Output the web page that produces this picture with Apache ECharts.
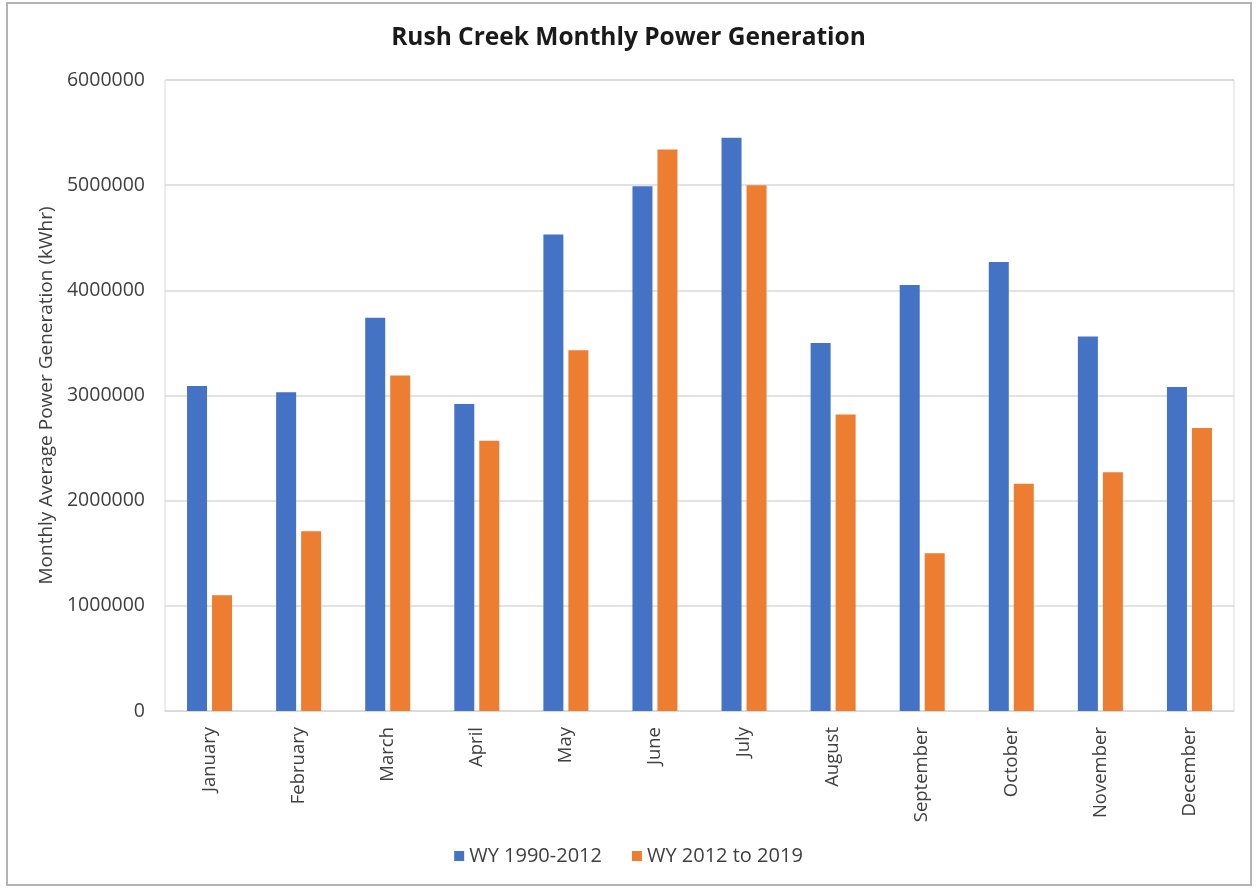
<!DOCTYPE html>
<html>
<head>
<meta charset="utf-8">
<script src="https://cdn.jsdelivr.net/npm/echarts@6/dist/echarts.min.js"></script>
<style>
html,body{margin:0;padding:0;background:#fff;}
#chart{width:1257px;height:888px;}
</style>
</head>
<body>
<div id="chart"></div>
<script>
const months = ["January","February","March","April","May","June","July","August","September","October","November","December"];
const wy1990_2012 = [3090000, 3030000, 3740000, 2920000, 4530000, 4990000, 5450000, 3500000, 4050000, 4270000, 3560000, 3080000];
const wy2012_2019 = [1100000, 1710000, 3190000, 2570000, 3430000, 5340000, 5000000, 2820000, 1500000, 2160000, 2270000, 2690000];
const seriesNames = ["WY 1990-2012", "WY 2012 to 2019"];
const yTicks = { min: 0, max: 6000000, interval: 1000000 };

const font = "'Open Sans', sans-serif";
const chart = echarts.init(document.getElementById('chart'), null, {renderer: 'canvas'});
chart.setOption({
  animation: false,
  backgroundColor: '#ffffff',
  title: {
    text: 'Rush Creek Monthly Power Generation',
    left: 'center',
    top: 21,
    textStyle: { fontFamily: font, fontWeight: 'bold', fontSize: 24.5, color: '#1a1a1a' }
  },
  graphic: [{
    type: 'rect',
    shape: { x: 7, y: 3, width: 1244, height: 882 },
    style: { fill: 'none', stroke: '#b3b3b3', lineWidth: 2 },
    silent: true
  }],
  legend: {
    data: seriesNames,
    bottom: 17,
    left: 'center',
    itemWidth: 10,
    itemHeight: 10,
    itemGap: 30,
    icon: 'rect',
    textStyle: { fontFamily: font, fontSize: 20, color: '#404040' }
  },
  grid: { left: 165, right: 23, top: 80, bottom: 177, show: true, borderColor: '#d9d9d9', borderWidth: 1 },
  xAxis: {
    type: 'category',
    data: months,
    axisLine: { lineStyle: { color: '#d9d9d9', width: 1 } },
    axisTick: { show: false },
    axisLabel: { rotate: 90, margin: 16, fontFamily: font, fontSize: 18.5, color: '#404040', interval: 0 }
  },
  yAxis: {
    type: 'value',
    min: yTicks.min,
    max: yTicks.max,
    interval: yTicks.interval,
    name: 'Monthly Average Power Generation (kWhr)',
    nameLocation: 'middle',
    nameRotate: 90,
    nameGap: 106,
    nameTextStyle: { fontFamily: font, fontSize: 19, color: '#404040' },
    axisLine: { show: false },
    axisTick: { show: false },
    splitLine: { lineStyle: { color: '#d9d9d9', width: 1.5 } },
    axisLabel: { margin: 20, fontFamily: font, fontSize: 19.5, color: '#404040', formatter: function (v) { return String(v); } }
  },
  series: [
    { name: seriesNames[0], type: 'bar', data: wy1990_2012, barWidth: 20, barGap: '25%', itemStyle: { color: '#4472C4' } },
    { name: seriesNames[1], type: 'bar', data: wy2012_2019, barWidth: 20, barGap: '25%', itemStyle: { color: '#ED7D31' } }
  ]
});
</script>
</body>
</html>
